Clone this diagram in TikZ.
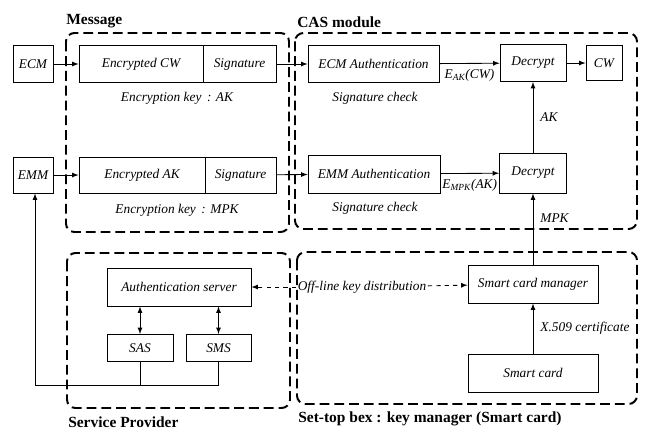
\documentclass[tikz,border=0pt]{standalone}
\usepackage{fontspec}
\setmainfont{Liberation Serif}
\usepackage{tikz}

\tikzset{
  blk/.style={rectangle, draw, line width=0.6pt, inner sep=0pt,
              font=\fontsize{9.5}{11}\selectfont\itshape},
  sz/.style 2 args={minimum width=#1*0.025cm, minimum height=#2*0.025cm},
  note/.style={font=\fontsize{9.5}{11}\selectfont\itshape, inner sep=1pt},
  group/.style={line width=1.4pt, dash pattern=on 7pt off 3.5pt, rounded corners=6pt},
  title/.style={font=\fontsize{11}{13}\selectfont\bfseries, anchor=south west, inner sep=0pt},
  link/.style={-latex, line width=0.6pt}
}

\begin{document}
\begin{tikzpicture}[x=0.025cm, y=-0.025cm]
\useasboundingbox (0,0) rectangle (647,430);

% groups
\draw[group] (66,33) rectangle (289,232);
\draw[group] (295,33) rectangle (637,229);
\draw[group] (67,253) rectangle (290,408);
\draw[group] (297,252) rectangle (637,404);
\node[title] at (66,28) {Message};
\node[title] at (297,28) {CAS module};
\node[title] at (68,428) {Service Provider};
\node[title] at (298,426) {Set-top bex : key manager (Smart card)};

% message
\node[blk, sz={40}{37}] (ecm) at (33,64) {ECM};
\node[blk, sz={124}{37}] (enccw) at (141,64) {Encrypted CW};
\node[blk, sz={73}{37}] (siga) at (239.5,64) {Signature};
\node[note] at (177,98) {Encryption key\, : AK};
\node[blk, sz={40}{36}] (emm) at (33,175) {EMM};
\node[blk, sz={126}{36}] (encak) at (142,175) {Encrypted AK};
\node[blk, sz={71}{36}] (sigb) at (240.5,175) {Signature};
\node[note] at (177,210) {Encryption key\, : MPK};

% CAS module
\node[blk, sz={131}{37}] (ecmauth) at (373.5,64) {ECM Authentication};
\node[note] at (375,98) {Signature check};
\node[blk, sz={66}{37}] (deca) at (533,63) {Decrypt};
\node[blk, sz={36}{35}] (cw) at (604,63) {CW};
\node[blk, sz={132}{38}] (emmauth) at (374,174) {EMM Authentication};
\node[note] at (375,208) {Signature check};
\node[blk, sz={67}{40}] (decb) at (533,173) {Decrypt};

% service provider
\node[blk, sz={144}{38}] (authsrv) at (179,287) {Authentication server};
\node[blk, sz={66}{27}] (sas) at (140,348) {SAS};
\node[blk, sz={65}{27}] (sms) at (218.5,348) {SMS};
\coordinate (fb) at (35,385);

% set-top box
\node[blk, sz={130}{38}] (scm) at (533,284) {Smart card manager};
\node[blk, sz={130}{38}] (sc) at (533,373) {Smart card};
\node[note] (offline) at (362,287) {Off-line key distribution};

% connectors
\draw[link] (ecm) -- (enccw);
\draw[link] (emm) -- (encak);
\draw[link] (siga) -- (ecmauth);
\draw[link] (sigb) -- (emmauth);
\draw[link] (ecmauth) -- node[note, below=3pt] {E\textsubscript{AK}(CW)} (deca);
\draw[link] (emmauth) -- node[note, below=3pt] {E\textsubscript{MPK}(AK)} (decb);
\draw[link] (deca) -- (cw);
\draw[link] (decb) -- node[note, right=4pt] {AK} (deca);
\draw[link] (scm) -- node[note, right=4pt, pos=0.65] {MPK} (decb);
\draw[link] (sc) -- node[note, right=4pt] {X.509 certificate} (scm);
\draw[latex-latex, line width=0.6pt] (authsrv.south -| sas) -- (sas);
\draw[latex-latex, line width=0.6pt] (authsrv.south -| sms) -- (sms);
\draw[link, dashed] (offline) -- (authsrv);
\draw[link, dashed] (offline) -- (scm);
\draw[line width=0.6pt] (sas.south) -- (sas.south |- fb);
\draw[link] (sms.south) |- (fb) -- (fb |- emm.south);
\end{tikzpicture}
\end{document}
